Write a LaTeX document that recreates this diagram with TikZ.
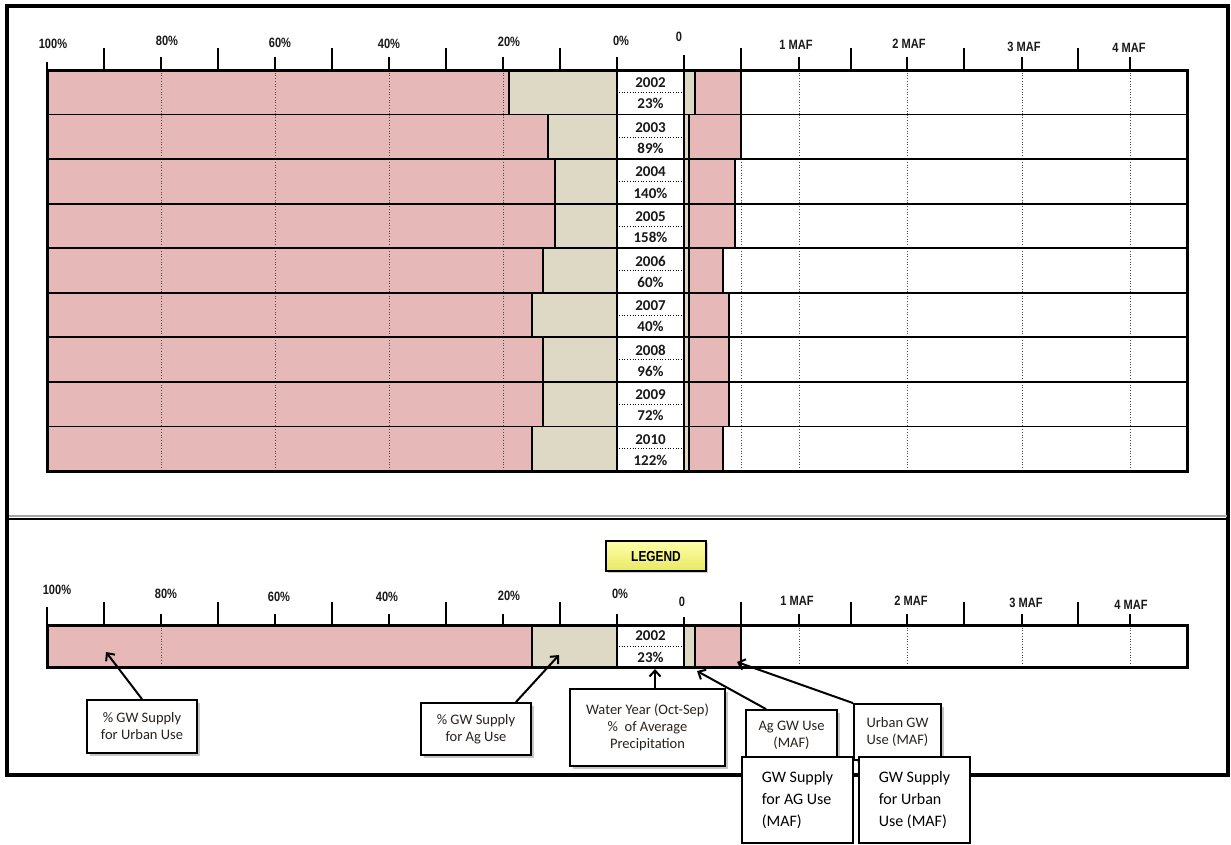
\documentclass[tikz,border=0pt]{standalone}
\usepackage{fontspec}
\setmainfont{Carlito}
\newfontfamily\axisfont[FakeStretch=0.82]{Liberation Sans}
\usetikzlibrary{arrows.meta,shadows}
\definecolor{pinkc}{RGB}{230,184,183}
\definecolor{tanc}{RGB}{221,217,196}
\definecolor{txtc}{RGB}{40,34,30}
\definecolor{legtop}{RGB}{255,255,170}
\definecolor{legbot}{RGB}{232,232,100}
\begin{document}
\begin{tikzpicture}[x=1pt,y=-1pt,
  seg/.style={line width=1.8pt},
  tickmark/.style={line width=1.1pt},
  gridline/.style={dotted,line width=0.7pt,black!70},
  axislab/.style={font=\axisfont\bfseries\fontsize{13.5}{14}\selectfont,text=black!90,inner sep=0pt},
  celltxt/.style={font=\bfseries\fontsize{15}{16}\selectfont,text=black!90,inner sep=0pt},
  callout/.style={draw,line width=1.8pt,fill=white,align=center,text=txtc,
    font=\fontsize{14.5}{17}\selectfont,inner sep=1pt,
    drop shadow={shadow xshift=3pt,shadow yshift=-3pt,opacity=0.45}},
  plainbox/.style={draw,line width=1.6pt,fill=white,align=left,text=black,
    font=\fontsize{16}{22}\selectfont,inner sep=1pt,minimum width=111pt,minimum height=86pt},
  legendbox/.style={draw,line width=1.8pt,top color=legtop,bottom color=legbot,
    minimum width=100pt,minimum height=30pt,inner sep=0pt,
    font=\axisfont\bfseries\fontsize{14.5}{15}\selectfont,
    drop shadow={shadow xshift=2pt,shadow yshift=-2pt,opacity=0.4}},
  arr/.style={line width=2pt,-{Straight Barb[length=6pt,width=11pt]}}
]
\useasboundingbox (0,0) rectangle (1231,844);
\fill[white] (0,0) rectangle (1231,844);

% outer frame and separator
\draw[line width=3.5pt] (7,6) rectangle (1228,775);
\draw[gray!70,line width=2.5pt] (8.5,516) -- (1226.5,516);
\draw[line width=1.2pt] (8.5,519) -- (1226.5,519);

% ===== top chart axis =====
\foreach \x in {104,218,332,446,560,741,851,964,1078}
  \draw[tickmark] (\x,48) -- (\x,70);
\foreach \x in {161,275,389,503,617,799,907,1022,1130}
  \draw[tickmark] (\x,57) -- (\x,70);
\draw[tickmark] (47,62) -- (47,70);
\draw[tickmark] (684,55) -- (684,70);

\node[axislab] (t100) at (53,44) {100\%};
\node[axislab] (t80) at (167,41) {80\%};
\node[axislab] (t60) at (280,43) {60\%};
\node[axislab] (t40) at (389,44) {40\%};
\node[axislab] (t20) at (509,42) {20\%};
\node[axislab] (t0p) at (621,41) {0\%};
\node[axislab] (t0) at (679,37) {0};
\node[axislab] (t1m) at (796,45) {1 MAF};
\node[axislab] (t2m) at (909,44) {2 MAF};
\node[axislab] (t3m) at (1024,47) {3 MAF};
\node[axislab] (t4m) at (1129,48) {4 MAF};

% ===== top chart rows =====
\fill[white] (47,70) rectangle (1187,471);
\def\rows{2002/23/509/695/741, 2003/89/548/689/741, 2004/140/555/689/735,
  2005/158/555/689/735, 2006/60/543/689/723, 2007/40/532/689/729,
  2008/96/543/689/729, 2009/72/543/689/729, 2010/122/532/689/723}
% fills
\foreach \yr/\pc/\u/\a/\p [count=\i from 0] in \rows {
  \pgfmathsetmacro\t{70+\i*44.56}
  \pgfmathsetmacro\b{\t+44.56}
  \fill[pinkc] (47,\t) rectangle (\u,\b);
  \fill[tanc] (\u,\t) rectangle (617,\b);
  \fill[tanc] (684,\t) rectangle (\a,\b);
  \fill[pinkc] (\a,\t) rectangle (\p,\b);
  \foreach \x in {161,275,389,503,741,799,907,1022,1130}
    \draw[gridline] (\x,\t) -- (\x,\b);
}
% lines and text
\foreach \yr/\pc/\u/\a/\p [count=\i from 0] in \rows {
  \pgfmathsetmacro\t{70+\i*44.56}
  \pgfmathsetmacro\b{\t+44.56}
  \pgfmathsetmacro\m{\t+22.3}
  \draw[gridline,black] (619,\m) -- (682,\m);
  \foreach \x in {\u,617,684,\a,\p}
    \draw[seg] (\x,\t) -- (\x,\b);
  \draw[seg] (47,\b) -- (1187,\b);
  \node[celltxt] (yr\i) at (650.5,\t+12.8) {\yr};
  \node[celltxt] (pc\i) at (650.5,\t+33.8) {\pc\%};
}
\draw[line width=3pt] (47,70) rectangle (1187,471);

% ===== legend =====
\node[legendbox] (legend) at (656,556) {LEGEND};

\foreach \x in {104,218,332,446,560,741,851,964,1078}
  \draw[tickmark] (\x,602) -- (\x,625);
\foreach \x in {161,275,389,503,617,799,907,1022,1130}
  \draw[tickmark] (\x,614) -- (\x,625);
\draw[tickmark] (47,607) -- (47,625);
\draw[tickmark] (684,617) -- (684,625);

\node[axislab] (l100) at (57,590) {100\%};
\node[axislab] (l80) at (166,594) {80\%};
\node[axislab] (l60) at (279,597) {60\%};
\node[axislab] (l40) at (387,597) {40\%};
\node[axislab] (l20) at (509,596) {20\%};
\node[axislab] (l0p) at (620,594) {0\%};
\node[axislab] (l0) at (682,602) {0};
\node[axislab] (l1m) at (797,601) {1 MAF};
\node[axislab] (l2m) at (911,601) {2 MAF};
\node[axislab] (l3m) at (1026,603) {3 MAF};
\node[axislab] (l4m) at (1131,605) {4 MAF};

\fill[white] (47,625) rectangle (1187,667);
\fill[pinkc] (47,625) rectangle (532,667);
\fill[tanc] (532,625) rectangle (617,667);
\fill[tanc] (684,625) rectangle (695,667);
\fill[pinkc] (695,625) rectangle (741,667);
\foreach \x in {161,799,907,1022,1130}
  \draw[gridline] (\x,625) -- (\x,667);
\draw[gridline,black] (619,646) -- (682,646);
\foreach \x in {532,617,684,695,741}
  \draw[seg] (\x,625) -- (\x,667);
\draw[line width=3pt] (47,625) rectangle (1187,667);
\node[celltxt] (lyr) at (650.5,636) {2002};
\node[celltxt] (lpc) at (650.5,657) {23\%};

% arrow targets
\coordinate (a1) at (106,652);
\coordinate (a2) at (559,655);
\coordinate (a3) at (655,669);
\coordinate (a4) at (697,671);
\coordinate (a5) at (737,662);

% callouts
\node[callout,minimum width=110pt,minimum height=53pt] (c1) at (142,726.5) {\% GW Supply\\for Urban Use};
\node[callout,minimum width=110pt,minimum height=52pt] (c2) at (476,729) {\% GW Supply\\for Ag Use};
\node[callout,minimum width=155pt,minimum height=77pt] (c3) at (647.5,727.5) {Water Year (Oct-Sep)\\\%\ \ of Average\\Precipitation};
\node[callout,minimum width=91pt,minimum height=50pt] (c4) at (791.5,735) {Ag GW Use\\(MAF)};
\node[callout,minimum width=87pt,minimum height=56pt] (c5) at (897.5,732) {Urban GW\\Use (MAF)};

\draw[arr] (c1.north) -- (a1);
\draw[arr] ([xshift=-16pt]c2.north east) -- (a2);
\draw[arr] ([xshift=7.5pt]c3.north) -- (a3);
\draw[arr] ([xshift=21pt]c4.north west) -- (a4);
\draw[arr] (c5.north west) -- (a5);

% bottom labels
\node[plainbox] (g1) at (797.5,800) {GW Supply\\for AG Use\\(MAF)};
\node[plainbox] (g2) at (914.5,800) {GW Supply\\for Urban\\Use (MAF)};
\end{tikzpicture}
\end{document}
